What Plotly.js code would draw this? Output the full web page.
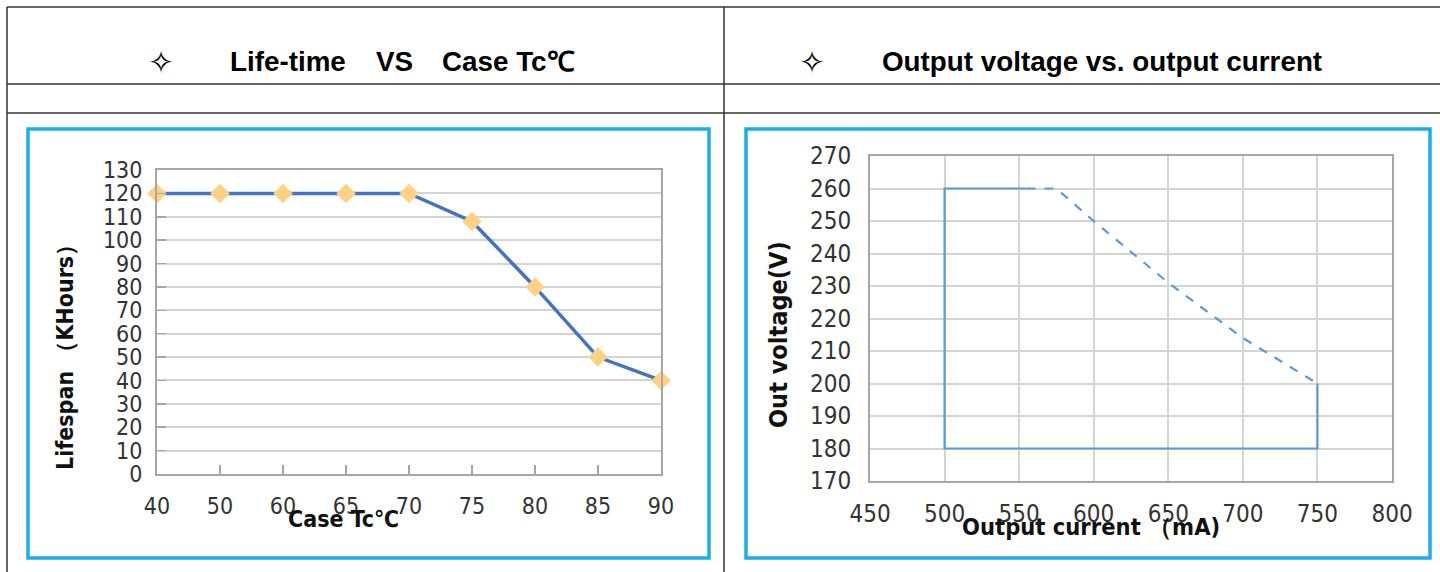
<!DOCTYPE html>
<html>
<head>
<meta charset="utf-8">
<script src="https://cdn.plot.ly/plotly-3.0.1.min.js"></script>
<style>html,body{margin:0;padding:0;background:#fff;}#chart{width:1440px;height:572px;}</style>
</head>
<body>
<div id="chart"></div>
<script>
// ---- data ----
const tempLabels = ['40','50','60','65','70','75','80','85','90'];
const lifespanK = [120,120,120,120,120,108,80,50,40];

const currentSolid = [555,500,500,750,750];
const voltageSolid = [260,260,180,180,200];
const currentDashed = [555,575,600,650,700,750];
const voltageDashed = [260,260,250,231,214,200];

const leftHeader = ['Life-time','VS','Case Tc℃'];
const rightHeader = 'Output voltage vs. output current';

// ---- helpers ----
const W = 1440, H = 572;
const px = x => x / W;
const py = y => 1 - y / H;
const condensed = '"DejaVu Sans Condensed","Liberation Sans Narrow","Arial Narrow",sans-serif';
const tickFontL = {family:condensed, size:23, color:'#333'};
const tickFontR = {family:condensed, size:24, color:'#333'};
const headFont = {family:'"Liberation Sans","Arial",sans-serif', size:27.8, color:'#000', weight:'bold'};
const starFont = {family:'"DejaVu Sans",sans-serif', size:31, color:'#000'};
const tf = s => ({family:condensed, size:s, color:'#111', weight:'bold'});
const gridC = '#d4d4d4', axC = '#a6a6a6';

const traces = [
  {x: tempLabels, y: lifespanK, type:'scatter', mode:'lines+markers', xaxis:'x', yaxis:'y',
   line:{color:'#4472C4', width:3.5}, marker:{symbol:'diamond', size:15, color:'#FFD283'},
   cliponaxis:false, showlegend:false, hoverinfo:'skip'},
  {x: currentSolid, y: voltageSolid, type:'scatter', mode:'lines', xaxis:'x2', yaxis:'y2',
   line:{color:'#5B9BD5', width:2.2}, showlegend:false, hoverinfo:'skip'},
  {x: currentDashed, y: voltageDashed, type:'scatter', mode:'lines', xaxis:'x2', yaxis:'y2',
   line:{color:'#5B9BD5', width:2.2, dash:'dash'}, showlegend:false, hoverinfo:'skip'}
];

const lineShape = (x0,y0,x1,y1,c,w) => ({type:'line', xref:'paper', yref:'paper',
  x0:px(x0), y0:py(y0), x1:px(x1), y1:py(y1), line:{color:c, width:w}});
const rectShape = (x0,y0,x1,y1) => ({type:'rect', xref:'paper', yref:'paper',
  x0:px(x0), y0:py(y0), x1:px(x1), y1:py(y1), line:{color:'#1AAFEB', width:3.5}, fillcolor:'rgba(0,0,0,0)'});

const shapes = [
  lineShape(7,7,1440,7,'#333',1.5),
  lineShape(7,7,7,572,'#333',1.5),
  lineShape(724,7,724,572,'#333',1.5),
  lineShape(7,84,1440,84,'#333',1.5),
  lineShape(7,113,1440,113,'#333',1.5),
  rectShape(28,129,709,558),
  rectShape(746,129,1430,558)
];

const ann = (x,y,text,font,extra) => Object.assign({xref:'paper', yref:'paper', x:px(x), y:py(y),
  text:text, showarrow:false, font:font, xanchor:'center', yanchor:'middle'}, extra||{});

const annotations = [
  ann(161,62,'✧',starFont),
  ann(228,62,leftHeader[0],headFont,{xanchor:'left'}),
  ann(374,62,leftHeader[1],headFont,{xanchor:'left'}),
  ann(440,62,leftHeader[2],headFont,{xanchor:'left'}),
  ann(812,62,'✧',starFont),
  ann(880,62,rightHeader,headFont,{xanchor:'left'}),
  ann(343,519,'Case Tc℃',tf(23)),
  ann(65,352,'Lifespan （KHours）',tf(23),{textangle:-90}),
  ann(1091,527,'Output current （mA)',tf(23.5)),
  ann(778,335,'Out voltage(V)',tf(25),{textangle:-90})
];

const layout = {
  width:W, height:H, margin:{l:0,r:0,t:0,b:0},
  paper_bgcolor:'#fff', plot_bgcolor:'#fff',
  showlegend:false,
  xaxis:{domain:[px(157),px(661)], anchor:'y', type:'category', range:[0,8],
    showgrid:false, showline:true, linecolor:axC, linewidth:2, mirror:true,
    ticks:'inside', ticklen:9, tickcolor:axC, tickwidth:1.5,
    tickfont:tickFontL, ticklabelstandoff:10, zeroline:false, fixedrange:true},
  yaxis:{domain:[py(474),py(170)], anchor:'x', range:[0,130], dtick:10,
    showgrid:true, gridcolor:gridC, gridwidth:2, showline:true, linecolor:axC, linewidth:2, mirror:true,
    ticks:'inside', ticklen:9, tickcolor:axC, tickwidth:1.5,
    tickfont:tickFontL, ticklabelstandoff:8, zeroline:false, fixedrange:true},
  xaxis2:{domain:[px(870),px(1392)], anchor:'y2', range:[450,800], dtick:50,
    showgrid:true, gridcolor:gridC, gridwidth:2, showline:true, linecolor:axC, linewidth:2, mirror:true,
    ticks:'', tickfont:tickFontR, ticklabelstandoff:10, zeroline:false, fixedrange:true},
  yaxis2:{domain:[py(481),py(156)], anchor:'x2', range:[170,270], dtick:10,
    showgrid:true, gridcolor:gridC, gridwidth:2, showline:true, linecolor:axC, linewidth:2, mirror:true,
    ticks:'', tickfont:tickFontR, ticklabelstandoff:12, zeroline:false, fixedrange:true},
  shapes:shapes, annotations:annotations
};

Plotly.newPlot('chart', traces, layout, {staticPlot:true, displayModeBar:false});
</script>
</body>
</html>
